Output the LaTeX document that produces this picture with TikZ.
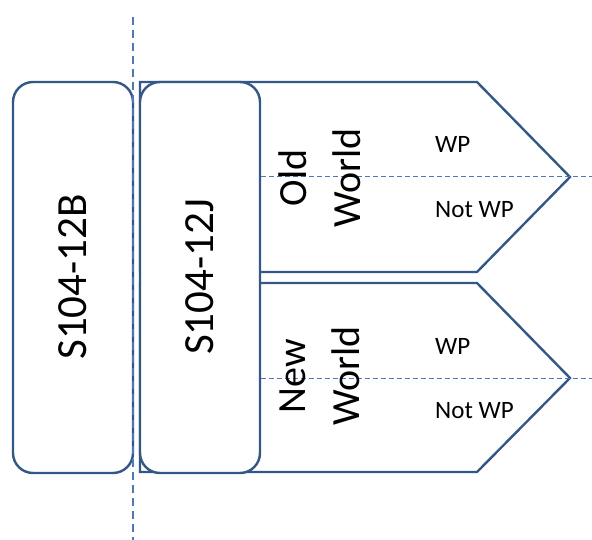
\documentclass[tikz,border=0pt]{standalone}
\usepackage{fontspec}
\setmainfont{Carlito}
\definecolor{edge}{RGB}{52,88,134}
\definecolor{dash}{RGB}{79,120,180}
\begin{document}
\begin{tikzpicture}[x=1pt,y=-1pt,
  rbox/.style={draw=edge, line width=2.4pt, fill=white, rounded corners=20pt, minimum width=120pt, minimum height=391pt, inner sep=0pt},
  arrowshape/.style={draw=edge, line width=2.4pt, fill=white, line join=miter},
  guide/.style={draw=dash, line width=1pt, dash pattern=on 5pt off 3pt},
  axis/.style={draw=dash, line width=2pt, dash pattern=on 8pt off 5pt},
  bigtxt/.style={rotate=90, align=center, font=\fontsize{43}{52}\selectfont},
  midtxt/.style={rotate=90, align=center, font=\fontsize{40}{54}\selectfont},
  smalltxt/.style={anchor=west, font=\fontsize{25}{30}\selectfont, inner sep=0pt}]
\useasboundingbox (0,0) rectangle (592,540);
% pentagons
\draw[arrowshape] (140,82) -- (477,82) -- (570,177) -- (477,272) -- (140,272) -- cycle;
\draw[arrowshape] (140,283) -- (477,283) -- (570,378) -- (477,472) -- (140,472) -- cycle;
% boxes
\node[rbox] (J) at (200,277.5) {};
\node[rbox] (B) at (73,277.5) {};
% guides
\coordinate (g1e) at (592,177);
\coordinate (g2e) at (592,378);
\draw[guide] (J.east |- g1e) -- (g1e);
\draw[guide] (J.east |- g2e) -- (g2e);
\coordinate (vtop) at (133,17);
\coordinate (vbot) at (133,540);
\draw[axis] (vtop) -- (vbot);
% texts
\node[bigtxt] (tB) at (73,277) {S104-12B};
\node[bigtxt] (tJ) at (200,277) {S104-12J};
\node[midtxt] (old) at (320,178) {Old\\World};
\node[midtxt] (new) at (320,376) {New\\World};
\node[smalltxt] (wp1) at (435,144) {WP};
\node[smalltxt] (nwp1) at (435,210) {Not WP};
\node[smalltxt] (wp2) at (435,346) {WP};
\node[smalltxt] (nwp2) at (435,411) {Not WP};
\end{tikzpicture}
\end{document}
